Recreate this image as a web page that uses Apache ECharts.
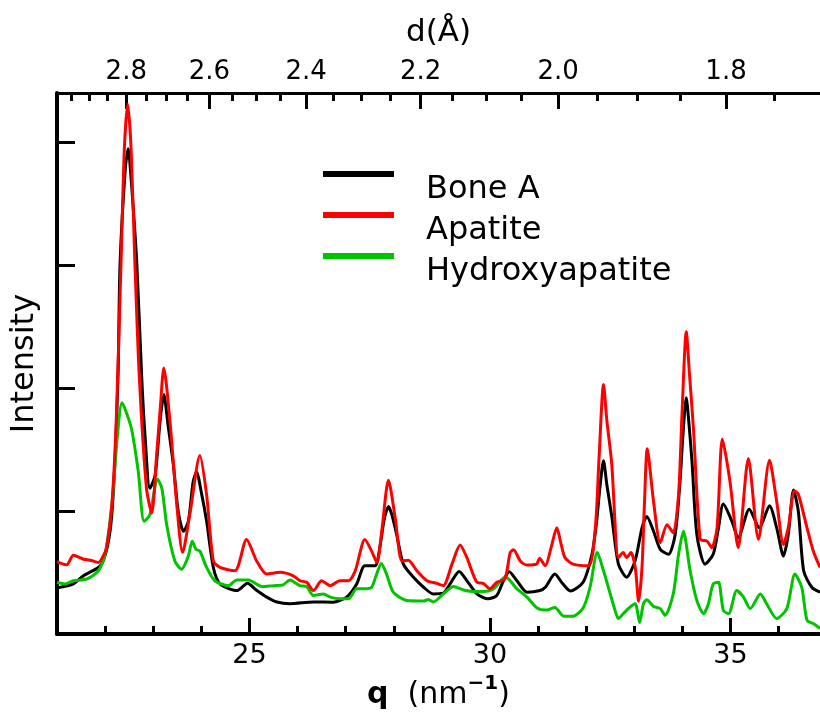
<!DOCTYPE html>
<html><head><meta charset="utf-8">
<script src="https://cdn.jsdelivr.net/npm/echarts@6/dist/echarts.min.js"></script>
<style>html,body{margin:0;padding:0;background:#fff}#c{width:820px;height:721px}</style>
</head><body><div id="c"></div>
<script>
// q (nm^-1), intensity (arb. units; y tick spacing = 1)
const boneA = [[21.00,0.376],[21.34,0.408],[21.55,0.474],[21.86,0.542],[21.96,0.595],[22.07,0.756],[22.14,0.971],[22.21,1.453],[22.27,2.123],[22.31,3.008],[22.42,3.785],[22.48,3.946],[22.54,3.705],[22.66,3.008],[22.76,2.097],[22.83,1.614],[22.93,1.185],[23.04,1.292],[23.14,1.721],[23.22,1.949],[23.31,1.694],[23.42,1.373],[23.52,0.997],[23.63,0.836],[23.73,0.917],[23.83,1.238],[23.90,1.319],[24.01,1.132],[24.11,0.917],[24.25,0.542],[24.39,0.408],[24.74,0.354],[24.96,0.413],[25.14,0.359],[25.36,0.301],[25.57,0.261],[25.84,0.247],[26.33,0.261],[26.74,0.259],[27.02,0.301],[27.23,0.408],[27.40,0.555],[27.61,0.555],[27.72,0.729],[27.80,0.930],[27.89,1.037],[27.96,0.971],[28.06,0.810],[28.20,0.569],[28.41,0.462],[28.62,0.381],[28.82,0.327],[29.03,0.333],[29.17,0.408],[29.36,0.510],[29.52,0.434],[29.73,0.327],[29.96,0.287],[30.14,0.314],[30.28,0.434],[30.40,0.508],[30.56,0.434],[30.77,0.341],[31.04,0.354],[31.15,0.381],[31.35,0.488],[31.50,0.416],[31.67,0.351],[31.94,0.424],[32.12,0.649],[32.21,0.890],[32.28,1.172],[32.36,1.409],[32.43,1.212],[32.53,0.963],[32.67,0.569],[32.84,0.462],[33.02,0.601],[33.16,0.864],[33.26,0.957],[33.40,0.836],[33.54,0.689],[33.71,0.649],[33.85,0.810],[33.95,1.238],[34.01,1.614],[34.08,1.922],[34.14,1.694],[34.20,1.399],[34.30,0.810],[34.47,0.569],[34.64,0.649],[34.75,0.864],[34.85,1.057],[35.03,0.917],[35.16,0.783],[35.39,1.016],[35.60,0.864],[35.81,1.043],[35.96,0.864],[36.10,0.635],[36.20,0.810],[36.31,1.172],[36.41,0.997],[36.52,0.515],[36.69,0.381],[36.86,0.341]];

const apatite = [[21.00,0.590],[21.20,0.563],[21.34,0.641],[21.55,0.609],[21.69,0.601],[21.86,0.582],[21.96,0.635],[22.03,0.703],[22.14,1.051],[22.23,1.721],[22.33,3.008],[22.40,3.946],[22.47,4.308],[22.54,3.946],[22.62,3.008],[22.71,2.097],[22.86,1.185],[22.97,0.984],[23.07,1.453],[23.15,1.855],[23.22,2.163],[23.35,1.721],[23.49,1.051],[23.61,0.663],[23.77,0.997],[23.97,1.453],[24.11,1.132],[24.25,0.595],[24.39,0.542],[24.70,0.515],[24.94,0.770],[25.15,0.595],[25.36,0.488],[25.64,0.502],[25.91,0.474],[26.05,0.434],[26.19,0.421],[26.33,0.354],[26.50,0.434],[26.68,0.394],[26.88,0.434],[27.06,0.434],[27.20,0.515],[27.40,0.770],[27.54,0.675],[27.65,0.582],[27.75,0.836],[27.89,1.252],[28.03,0.944],[28.17,0.595],[28.30,0.601],[28.48,0.515],[28.69,0.434],[28.89,0.413],[29.03,0.394],[29.21,0.569],[29.38,0.725],[29.52,0.622],[29.73,0.421],[29.86,0.413],[30.00,0.368],[30.14,0.421],[30.31,0.448],[30.42,0.663],[30.49,0.685],[30.63,0.595],[30.77,0.561],[30.97,0.569],[31.03,0.617],[31.15,0.555],[31.27,0.703],[31.39,0.864],[31.48,0.729],[31.56,0.622],[31.73,0.569],[32.05,0.556],[32.19,0.864],[32.27,1.453],[32.36,2.030],[32.43,1.735],[32.53,1.389],[32.67,0.622],[32.77,0.663],[32.84,0.622],[32.93,0.663],[33.02,0.542],[33.09,0.267],[33.16,0.542],[33.21,1.051],[33.27,1.507],[33.40,1.078],[33.54,0.743],[33.68,0.890],[33.81,0.824],[33.92,1.132],[33.99,1.775],[34.08,2.458],[34.15,2.097],[34.23,1.668],[34.37,0.770],[34.51,0.756],[34.61,0.703],[34.72,0.864],[34.83,1.587],[34.99,1.238],[35.16,0.703],[35.37,1.427],[35.58,0.770],[35.81,1.413],[35.96,1.078],[36.10,0.729],[36.20,0.864],[36.33,1.166],[36.41,1.137],[36.59,0.864],[36.72,0.675],[36.86,0.542]];

const hydroxyapatite = [[21.00,0.421],[21.17,0.408],[21.34,0.434],[21.62,0.448],[21.86,0.515],[22.00,0.649],[22.14,1.051],[22.25,1.587],[22.35,1.882],[22.43,1.815],[22.55,1.668],[22.69,1.319],[22.81,0.917],[22.93,0.971],[23.09,1.260],[23.18,1.185],[23.28,0.890],[23.45,0.595],[23.59,0.528],[23.73,0.635],[23.81,0.756],[23.89,0.689],[23.97,0.675],[24.11,0.542],[24.28,0.434],[24.56,0.394],[24.74,0.440],[24.98,0.440],[25.26,0.386],[25.50,0.394],[25.70,0.400],[25.84,0.440],[26.05,0.394],[26.19,0.386],[26.33,0.314],[26.54,0.327],[26.68,0.301],[26.88,0.287],[27.06,0.287],[27.23,0.368],[27.40,0.368],[27.54,0.381],[27.63,0.472],[27.74,0.574],[27.85,0.488],[27.99,0.341],[28.27,0.273],[28.62,0.269],[28.72,0.281],[28.82,0.261],[29.03,0.327],[29.24,0.388],[29.45,0.359],[29.66,0.347],[29.97,0.351],[30.11,0.381],[30.32,0.466],[30.56,0.368],[30.77,0.301],[30.97,0.215],[31.18,0.195],[31.35,0.217],[31.53,0.146],[31.73,0.146],[31.94,0.215],[32.08,0.381],[32.23,0.663],[32.36,0.515],[32.50,0.327],[32.60,0.193],[32.67,0.126],[32.77,0.166],[32.91,0.220],[33.02,0.247],[33.11,0.094],[33.19,0.247],[33.26,0.279],[33.40,0.225],[33.54,0.207],[33.64,0.153],[33.81,0.327],[33.92,0.649],[34.02,0.836],[34.16,0.515],[34.30,0.273],[34.44,0.166],[34.54,0.247],[34.64,0.408],[34.75,0.421],[34.85,0.193],[34.96,0.166],[35.13,0.354],[35.27,0.301],[35.41,0.207],[35.62,0.327],[35.75,0.247],[35.96,0.126],[36.17,0.207],[36.34,0.488],[36.48,0.381],[36.59,0.113],[36.72,0.086],[36.86,0.046]];

const legendNames = ['Bone A', 'Apatite', 'Hydroxyapatite'];
const qRange = [21, 36.86];
const qMajorTicks = [25, 30, 35];
const qMinorTicks = [22, 23, 24, 26, 27, 28, 29, 31, 32, 33, 34, 36];
const dMajorTicks = [2.8, 2.6, 2.4, 2.2, 2.0, 1.8];
const dMinorTicks = [2.95, 2.9, 2.85, 2.75, 2.7, 2.65, 2.55, 2.5, 2.45, 2.35, 2.3, 2.25, 2.15, 2.1, 2.05, 1.95, 1.9, 1.85, 1.75];
const yTicks = [1, 2, 3, 4];
const yRange = [0, 4.4];

// q (nm^-1) = 2*pi*10 / d (Angstrom)
const K = 20 * Math.PI;
const dToQ = d => K / d;

const FONT = "'DejaVu Sans', sans-serif";
const baseX = { type: 'value', min: qRange[0], max: qRange[1], splitLine: { show: false } };

const chart = echarts.init(document.getElementById('c'), null, { renderer: 'canvas' });
chart.setOption({
  animation: false,
  backgroundColor: '#fff',
  grid: { left: 57, right: 0, top: 93, bottom: 80, containLabel: false },
  legend: {
    data: legendNames, orient: 'vertical', left: 323, top: 171, padding: 0,
    icon: 'path://M0,0h71v6h-71z M0,38h98',
    itemWidth: 98, itemHeight: 38, itemGap: 3, selectedMode: false,
    itemStyle: { borderWidth: 0 },
    textStyle: { fontSize: 32, fontFamily: FONT, color: '#000' }
  },
  xAxis: [
    Object.assign({}, baseX, {
      position: 'bottom',
      axisLine: { onZero: false, lineStyle: { color: '#000', width: 4 } },
      axisTick: { inside: true, length: 16, customValues: qMajorTicks, lineStyle: { color: '#000', width: 3 } },
      axisLabel: { customValues: qMajorTicks, fontSize: 27, fontFamily: FONT, color: '#000', margin: 8 },
      name: '{q|q}  (nm{s|\u22121})', nameLocation: 'middle', nameGap: 30,
      nameTextStyle: { fontSize: 30, fontFamily: FONT, color: '#000', lineHeight: 42,
        rich: { q: { fontSize: 30, fontWeight: 'bold', fontFamily: FONT, lineHeight: 42 },
                s: { fontSize: 20, fontWeight: 'bold', fontFamily: FONT, verticalAlign: 'top', lineHeight: 20 } } }
    }),
    Object.assign({}, baseX, {
      position: 'top',
      axisLine: { onZero: false, lineStyle: { color: '#000', width: 3 } },
      axisTick: { inside: true, length: 16, customValues: dMajorTicks.map(dToQ), lineStyle: { color: '#000', width: 3 } },
      axisLabel: { customValues: dMajorTicks.map(dToQ), formatter: v => (K / v).toFixed(1), fontSize: 26, fontFamily: FONT, color: '#000', margin: 8 },
      name: 'd(Å)', nameLocation: 'middle', nameGap: 45,
      nameTextStyle: { fontSize: 31, fontFamily: FONT, color: '#000' }
    }),
    Object.assign({}, baseX, {
      position: 'bottom',
      axisLine: { show: false },
      axisTick: { inside: true, length: 8, customValues: qMinorTicks, lineStyle: { color: '#000', width: 3 } },
      axisLabel: { show: false }
    }),
    Object.assign({}, baseX, {
      position: 'top',
      axisLine: { show: false },
      axisTick: { inside: true, length: 8, customValues: dMinorTicks.map(dToQ), lineStyle: { color: '#000', width: 3 } },
      axisLabel: { show: false }
    })
  ],
  yAxis: {
    type: 'value', min: yRange[0], max: yRange[1],
    axisLine: { show: true, onZero: false, lineStyle: { color: '#000', width: 4 } },
    axisTick: { show: true, inside: true, length: 18, customValues: yTicks, lineStyle: { color: '#000', width: 3 } },
    axisLabel: { show: false }, splitLine: { show: false },
    name: 'Intensity', nameLocation: 'middle', nameRotate: 90, nameGap: 16,
    nameTextStyle: { fontSize: 32, fontFamily: FONT, color: '#000' }
  },
  series: [
    { name: 'Bone A', type: 'line', data: boneA, xAxisIndex: 0, yAxisIndex: 0, symbol: 'none', smooth: 0.25,
      lineStyle: { color: '#000000', width: 3 }, itemStyle: { color: '#000000' }, z: 2 },
    { name: 'Hydroxyapatite', type: 'line', data: hydroxyapatite, xAxisIndex: 0, yAxisIndex: 0, symbol: 'none', smooth: 0.25,
      lineStyle: { color: '#00c400', width: 3 }, itemStyle: { color: '#00c400' }, z: 3 },
    { name: 'Apatite', type: 'line', data: apatite, xAxisIndex: 0, yAxisIndex: 0, symbol: 'none', smooth: 0.25,
      lineStyle: { color: '#ff0000', width: 3 }, itemStyle: { color: '#ff0000' }, z: 4 }
  ]
});
</script></body></html>
